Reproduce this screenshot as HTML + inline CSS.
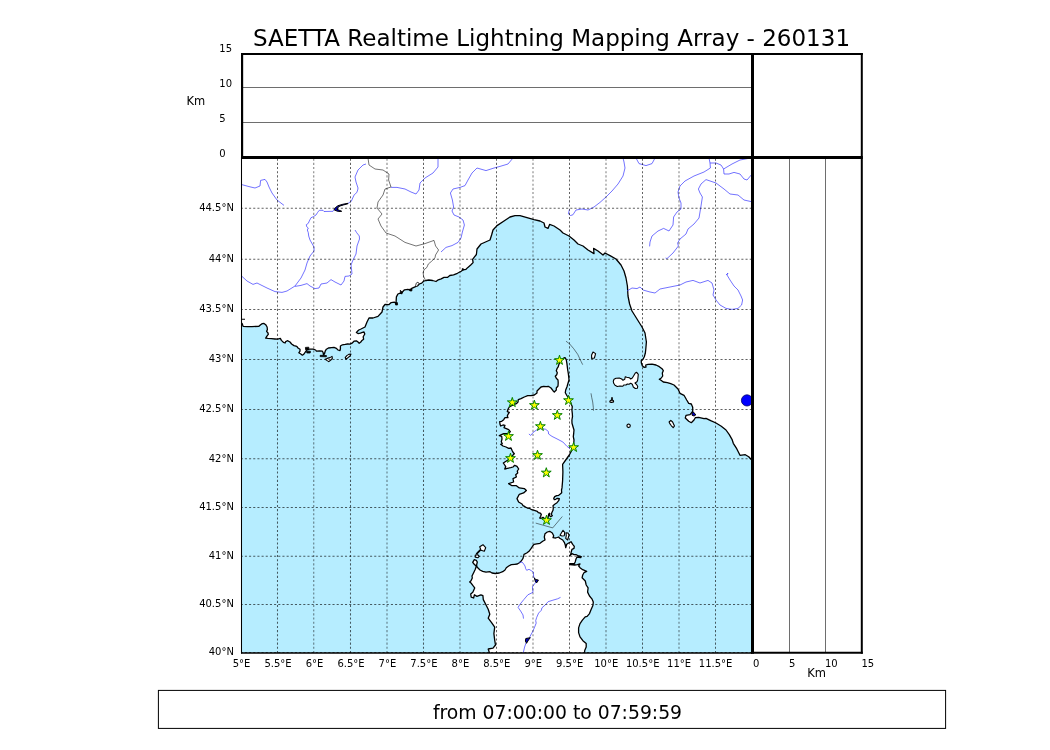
<!DOCTYPE html>
<html lang="en"><head><meta charset="utf-8"><title>SAETTA Realtime Lightning Mapping Array</title>
<style>html,body{margin:0;padding:0;background:#fff;overflow:hidden}svg{display:block;will-change:transform}text{font-family:"DejaVu Sans","Liberation Sans",sans-serif;fill:#000}</style></head><body>
<svg width="1050" height="750" viewBox="0 0 1050 750">
<rect width="1050" height="750" fill="#fff"/>
<defs><clipPath id="mc"><rect x="241.5" y="157.4" width="511.0" height="495.6"/></clipPath></defs>
<g clip-path="url(#mc)">
<rect x="241.5" y="157.4" width="511.0" height="495.6" fill="#b6edff"/>
<path d="M240.0 322.5 L242.0 323.3 L242.6 324.7 L243.1 326.4 L247.4 326.6 L252.0 326.6 L258.9 326.3 L260.6 324.7 L262.3 323.6 L264.0 323.4 L265.7 324.7 L267.1 327.0 L267.4 329.6 L266.6 331.3 L268.0 333.0 L268.3 334.4 L266.9 336.1 L265.7 338.1 L268.0 338.4 L271.4 338.7 L274.9 339.0 L277.7 339.2 L280.3 338.4 L281.4 340.4 L283.4 342.4 L285.1 343.0 L285.7 341.6 L287.4 340.7 L290.0 342.0 L291.6 344.0 L294.0 345.6 L296.8 346.4 L298.0 348.0 L300.0 349.2 L300.0 351.2 L298.8 352.8 L300.8 354.0 L302.4 355.2 L304.0 354.0 L305.6 351.6 L307.2 349.6 L309.2 349.2 L313.2 349.2 L315.6 350.0 L316.4 351.2 L319.6 351.0 L322.4 351.2 L323.2 352.8 L323.4 354.8 L324.4 354.0 L325.2 351.2 L326.4 349.2 L328.4 348.0 L331.6 347.6 L334.0 347.4 L336.4 348.4 L338.0 350.0 L340.0 350.6 L340.4 348.8 L340.4 346.0 L342.4 344.8 L345.2 344.4 L347.6 344.0 L350.0 344.2 L352.0 343.2 L354.0 341.2 L356.4 340.8 L358.0 342.0 L359.2 343.2 L360.8 342.0 L362.0 340.4 L363.6 339.2 L363.2 336.8 L364.8 334.0 L364.0 332.0 L362.4 332.4 L360.4 333.2 L358.0 333.6 L356.4 332.4 L358.0 330.8 L358.8 330.0 L361.0 329.0 L365.0 327.0 L367.0 322.0 L369.0 318.0 L373.0 318.0 L378.0 316.4 L382.0 312.0 L383.0 307.0 L385.0 304.5 L388.8 304.7 L391.2 302.6 L394.5 302.1 L396.0 303.6 L396.4 296.9 L397.9 294.0 L400.2 293.1 L401.7 293.6 L402.6 291.7 L404.5 289.8 L407.9 289.3 L410.2 290.2 L411.7 288.3 L415.0 286.9 L417.4 286.0 L419.3 284.0 L421.7 283.1 L423.6 281.2 L426.0 280.5 L428.8 280.0 L432.6 280.5 L436.0 281.5 L438.3 279.8 L441.2 278.8 L444.0 277.4 L447.4 277.4 L449.8 275.5 L453.6 274.8 L457.4 273.3 L461.2 271.2 L463.1 269.8 L466.0 269.3 L467.9 267.4 L470.7 265.0 L473.1 262.6 L472.6 259.3 L474.5 256.9 L476.4 254.5 L477.0 249.0 L481.0 244.0 L490.0 240.0 L491.6 235.0 L493.0 230.0 L497.0 225.6 L504.0 221.0 L510.0 217.0 L515.0 215.6 L520.0 215.6 L527.0 217.6 L534.0 219.6 L540.0 221.0 L544.0 223.0 L545.0 227.0 L548.0 228.4 L549.6 224.4 L554.0 226.0 L560.0 230.0 L563.0 233.0 L569.0 236.0 L574.0 240.0 L578.0 244.0 L583.0 246.0 L588.0 250.0 L594.0 253.6 L593.6 248.4 L598.0 251.0 L603.0 255.0 L605.0 253.0 L610.0 255.6 L616.0 259.0 L621.0 265.0 L624.0 271.0 L626.0 278.0 L627.4 286.0 L628.0 296.0 L629.6 304.0 L632.0 311.0 L637.0 319.0 L642.0 327.0 L645.0 333.0 L646.4 342.0 L645.8 349.0 L645.3 353.3 L644.3 356.7 L643.0 359.3 L641.3 360.0 L641.3 362.7 L642.3 365.7 L644.0 367.3 L646.0 367.0 L645.7 365.0 L648.0 364.3 L652.0 364.1 L656.0 365.0 L659.3 366.7 L662.0 368.7 L663.3 370.7 L662.3 373.0 L662.7 376.0 L661.3 378.0 L659.3 379.2 L661.0 380.3 L663.3 382.0 L667.3 382.7 L670.7 383.7 L674.0 385.0 L678.0 389.0 L680.0 393.3 L684.0 395.3 L686.7 400.0 L688.7 403.3 L691.3 404.0 L692.7 407.3 L692.7 411.3 L690.0 414.7 L686.0 415.3 L685.3 418.0 L688.7 421.3 L691.3 422.7 L694.0 420.0 L695.3 417.7 L698.7 417.3 L704.0 418.7 L706.0 418.3 L710.7 420.7 L716.0 423.0 L721.3 426.3 L726.0 430.0 L729.3 434.7 L732.0 439.3 L733.3 443.3 L736.7 448.7 L740.0 455.3 L745.3 454.7 L748.7 456.7 L751.0 459.3 L753.0 460.5 L760.0 460.0 L760.0 150.0 L235.0 150.0 L235.0 322.0Z" fill="#fff"/>
<path d="M240.0 322.5 L242.0 323.3 L242.6 324.7 L243.1 326.4 L247.4 326.6 L252.0 326.6 L258.9 326.3 L260.6 324.7 L262.3 323.6 L264.0 323.4 L265.7 324.7 L267.1 327.0 L267.4 329.6 L266.6 331.3 L268.0 333.0 L268.3 334.4 L266.9 336.1 L265.7 338.1 L268.0 338.4 L271.4 338.7 L274.9 339.0 L277.7 339.2 L280.3 338.4 L281.4 340.4 L283.4 342.4 L285.1 343.0 L285.7 341.6 L287.4 340.7 L290.0 342.0 L291.6 344.0 L294.0 345.6 L296.8 346.4 L298.0 348.0 L300.0 349.2 L300.0 351.2 L298.8 352.8 L300.8 354.0 L302.4 355.2 L304.0 354.0 L305.6 351.6 L307.2 349.6 L309.2 349.2 L313.2 349.2 L315.6 350.0 L316.4 351.2 L319.6 351.0 L322.4 351.2 L323.2 352.8 L323.4 354.8 L324.4 354.0 L325.2 351.2 L326.4 349.2 L328.4 348.0 L331.6 347.6 L334.0 347.4 L336.4 348.4 L338.0 350.0 L340.0 350.6 L340.4 348.8 L340.4 346.0 L342.4 344.8 L345.2 344.4 L347.6 344.0 L350.0 344.2 L352.0 343.2 L354.0 341.2 L356.4 340.8 L358.0 342.0 L359.2 343.2 L360.8 342.0 L362.0 340.4 L363.6 339.2 L363.2 336.8 L364.8 334.0 L364.0 332.0 L362.4 332.4 L360.4 333.2 L358.0 333.6 L356.4 332.4 L358.0 330.8 L358.8 330.0 L361.0 329.0 L365.0 327.0 L367.0 322.0 L369.0 318.0 L373.0 318.0 L378.0 316.4 L382.0 312.0 L383.0 307.0 L385.0 304.5 L388.8 304.7 L391.2 302.6 L394.5 302.1 L396.0 303.6 L396.4 296.9 L397.9 294.0 L400.2 293.1 L401.7 293.6 L402.6 291.7 L404.5 289.8 L407.9 289.3 L410.2 290.2 L411.7 288.3 L415.0 286.9 L417.4 286.0 L419.3 284.0 L421.7 283.1 L423.6 281.2 L426.0 280.5 L428.8 280.0 L432.6 280.5 L436.0 281.5 L438.3 279.8 L441.2 278.8 L444.0 277.4 L447.4 277.4 L449.8 275.5 L453.6 274.8 L457.4 273.3 L461.2 271.2 L463.1 269.8 L466.0 269.3 L467.9 267.4 L470.7 265.0 L473.1 262.6 L472.6 259.3 L474.5 256.9 L476.4 254.5 L477.0 249.0 L481.0 244.0 L490.0 240.0 L491.6 235.0 L493.0 230.0 L497.0 225.6 L504.0 221.0 L510.0 217.0 L515.0 215.6 L520.0 215.6 L527.0 217.6 L534.0 219.6 L540.0 221.0 L544.0 223.0 L545.0 227.0 L548.0 228.4 L549.6 224.4 L554.0 226.0 L560.0 230.0 L563.0 233.0 L569.0 236.0 L574.0 240.0 L578.0 244.0 L583.0 246.0 L588.0 250.0 L594.0 253.6 L593.6 248.4 L598.0 251.0 L603.0 255.0 L605.0 253.0 L610.0 255.6 L616.0 259.0 L621.0 265.0 L624.0 271.0 L626.0 278.0 L627.4 286.0 L628.0 296.0 L629.6 304.0 L632.0 311.0 L637.0 319.0 L642.0 327.0 L645.0 333.0 L646.4 342.0 L645.8 349.0 L645.3 353.3 L644.3 356.7 L643.0 359.3 L641.3 360.0 L641.3 362.7 L642.3 365.7 L644.0 367.3 L646.0 367.0 L645.7 365.0 L648.0 364.3 L652.0 364.1 L656.0 365.0 L659.3 366.7 L662.0 368.7 L663.3 370.7 L662.3 373.0 L662.7 376.0 L661.3 378.0 L659.3 379.2 L661.0 380.3 L663.3 382.0 L667.3 382.7 L670.7 383.7 L674.0 385.0 L678.0 389.0 L680.0 393.3 L684.0 395.3 L686.7 400.0 L688.7 403.3 L691.3 404.0 L692.7 407.3 L692.7 411.3 L690.0 414.7 L686.0 415.3 L685.3 418.0 L688.7 421.3 L691.3 422.7 L694.0 420.0 L695.3 417.7 L698.7 417.3 L704.0 418.7 L706.0 418.3 L710.7 420.7 L716.0 423.0 L721.3 426.3 L726.0 430.0 L729.3 434.7 L732.0 439.3 L733.3 443.3 L736.7 448.7 L740.0 455.3 L745.3 454.7 L748.7 456.7 L751.0 459.3 L753.0 460.5" fill="none" stroke="#000" stroke-width="1.3" stroke-linejoin="round"/>
<path d="M564.2 357.7 L561.0 360.0 L559.5 363.0 L558.7 365.0 L558.3 366.7 L557.0 368.7 L556.3 370.7 L557.3 372.7 L556.7 374.7 L555.3 376.3 L556.3 378.3 L558.0 380.0 L558.2 382.7 L558.0 386.0 L556.3 388.0 L556.3 390.0 L554.3 392.0 L553.0 390.7 L551.0 388.0 L548.3 386.3 L546.3 386.7 L543.7 386.3 L541.0 387.0 L539.0 389.0 L537.0 391.0 L537.0 393.0 L534.3 395.0 L531.0 395.7 L527.7 395.7 L524.3 397.0 L521.0 398.7 L518.3 399.7 L518.0 402.0 L516.3 403.7 L513.0 405.0 L509.3 407.0 L508.0 409.3 L507.3 411.7 L509.3 412.3 L508.0 414.3 L507.3 416.0 L508.0 417.7 L505.0 417.7 L503.7 419.7 L501.7 421.3 L499.7 421.7 L500.0 424.3 L500.7 426.0 L503.0 425.0 L505.0 425.3 L504.0 427.7 L506.3 428.7 L508.7 429.7 L510.3 431.7 L508.3 433.3 L503.7 433.7 L499.3 435.7 L501.7 436.3 L502.0 439.0 L501.3 441.7 L502.3 443.7 L500.7 444.3 L503.0 446.0 L506.0 447.0 L508.7 448.3 L511.0 448.0 L512.0 450.3 L513.0 452.3 L514.3 453.7 L513.0 455.0 L511.0 458.0 L506.0 461.3 L503.3 463.0 L504.7 465.0 L505.7 466.7 L504.7 469.0 L507.3 468.3 L510.7 467.7 L513.0 467.0 L514.7 465.3 L517.0 466.3 L518.7 469.0 L517.3 471.0 L517.7 473.0 L515.7 474.7 L516.4 477.0 L513.0 478.6 L513.6 482.0 L508.6 483.6 L512.0 485.7 L516.4 485.7 L519.3 487.9 L524.3 488.6 L526.4 490.4 L523.6 492.9 L519.3 494.3 L517.0 498.6 L518.6 502.0 L522.0 504.0 L523.0 505.7 L525.0 506.7 L527.3 508.0 L529.3 508.3 L531.7 509.7 L534.3 510.3 L537.3 511.3 L538.3 512.7 L540.0 513.0 L541.3 514.3 L540.7 516.3 L539.7 518.0 L541.3 518.3 L543.0 517.3 L545.0 519.0 L546.5 520.0 L548.0 518.0 L548.7 514.0 L549.7 513.3 L549.3 515.3 L550.7 516.7 L552.3 515.7 L551.3 514.3 L552.0 512.3 L553.0 510.3 L553.3 508.0 L553.0 505.7 L554.7 504.3 L557.0 502.7 L558.7 500.7 L559.3 498.7 L557.3 498.3 L555.7 499.3 L554.3 499.7 L553.7 498.3 L554.7 496.7 L556.7 495.7 L558.7 495.3 L560.3 494.0 L561.7 492.7 L561.5 490.0 L562.0 487.9 L562.6 480.7 L562.9 472.0 L562.6 464.3 L565.7 460.0 L569.3 455.0 L572.0 450.0 L573.6 445.0 L574.0 440.0 L573.3 436.7 L573.7 433.3 L574.0 430.0 L573.0 426.7 L572.0 423.3 L571.9 420.0 L572.5 416.7 L572.3 413.3 L571.9 410.0 L572.3 406.7 L571.3 404.3 L569.8 400.5 L568.3 397.3 L566.7 395.3 L565.3 392.7 L565.7 390.0 L567.0 386.7 L568.0 383.3 L569.0 380.0 L568.7 376.7 L568.3 373.3 L567.7 370.0 L567.3 366.7 L566.9 363.3 L566.3 360.0 L565.3 357.9Z" fill="#fff" stroke="#000" stroke-width="1.3" stroke-linejoin="round"/>
<path d="M489.8 654.0 L488.2 649.0 L493.0 648.2 L495.5 645.0 L494.7 640.1 L493.9 633.6 L494.7 627.2 L491.4 622.3 L488.2 618.2 L489.8 614.2 L488.2 609.3 L485.8 604.5 L483.3 599.6 L482.9 595.6 L480.9 594.8 L476.9 596.4 L474.4 594.8 L473.6 598.0 L471.2 597.2 L470.7 594.0 L472.8 592.3 L474.7 587.9 L473.0 585.7 L471.3 583.3 L469.7 582.0 L471.0 580.7 L472.3 578.0 L472.0 576.0 L474.0 572.0 L475.3 569.3 L476.3 566.3 L474.0 564.0 L472.7 562.3 L474.3 559.7 L476.3 560.3 L477.3 562.0 L476.7 564.7 L476.7 566.3 L478.0 568.0 L480.0 570.0 L482.7 571.3 L486.0 572.1 L490.0 571.7 L492.0 573.0 L495.3 573.5 L499.3 573.0 L502.7 571.7 L505.0 570.0 L506.3 567.7 L508.7 566.0 L511.3 564.7 L514.7 564.3 L517.3 564.0 L519.3 562.7 L521.3 561.0 L523.0 558.3 L523.7 555.7 L524.0 554.3 L526.7 553.0 L529.0 551.3 L531.0 548.7 L532.7 546.0 L534.0 544.3 L536.8 543.8 L540.0 543.3 L542.7 541.3 L545.0 540.0 L544.3 537.0 L545.0 533.7 L547.3 532.0 L549.7 531.3 L552.3 533.0 L553.7 535.7 L553.0 537.7 L555.7 538.0 L558.7 537.0 L559.7 538.3 L562.7 540.0 L564.3 542.3 L565.3 545.0 L565.7 547.7 L566.7 544.3 L568.7 543.0 L571.0 541.7 L572.7 544.3 L574.3 546.3 L574.0 548.3 L572.0 549.3 L571.3 551.7 L570.7 554.3 L569.7 555.7 L572.0 553.7 L574.0 554.7 L576.3 554.7 L578.7 556.0 L581.3 556.7 L580.7 557.7 L577.0 557.0 L576.0 559.0 L575.3 561.7 L574.3 563.7 L569.7 563.7 L569.7 564.7 L574.7 565.0 L577.3 564.7 L580.0 564.0 L578.7 566.0 L580.0 567.7 L582.7 569.7 L586.7 571.3 L584.0 572.7 L582.7 575.0 L582.1 577.8 L585.3 581.0 L586.2 585.0 L588.1 587.9 L587.6 592.1 L589.5 596.0 L591.9 598.8 L593.3 602.1 L592.9 605.5 L591.0 609.8 L589.5 613.6 L587.1 616.4 L585.2 616.9 L582.4 620.2 L580.0 623.6 L578.6 627.9 L578.6 632.6 L580.0 636.9 L582.9 640.7 L586.2 643.6 L586.2 646.9 L584.8 650.2 L584.3 654.0Z" fill="#fff" stroke="#000" stroke-width="1.3" stroke-linejoin="round"/>
<path d="M613.3 381.3 L614.0 379.3 L616.0 378.3 L619.3 378.1 L621.7 379.0 L623.0 380.3 L624.7 379.3 L625.3 376.7 L626.7 377.3 L629.3 377.7 L630.7 379.0 L632.3 378.0 L633.7 375.7 L635.3 373.0 L636.7 372.3 L638.3 374.3 L638.0 377.3 L637.7 380.0 L637.0 381.7 L635.0 383.0 L636.7 384.7 L637.7 386.3 L637.3 388.3 L635.3 388.5 L633.3 387.0 L632.3 384.3 L630.7 383.3 L629.0 384.3 L627.3 384.0 L626.0 385.0 L623.7 385.0 L622.7 386.3 L620.0 386.0 L617.3 386.5 L615.0 385.3 L613.7 383.3Z" fill="#fff" stroke="#000" stroke-width="1.1" stroke-linejoin="round"/>
<path d="M593.0 352.0 L595.6 353.6 L594.4 358.0 L591.6 358.4 L591.6 355.0Z" fill="#fff" stroke="#000" stroke-width="1.1" stroke-linejoin="round"/>
<path d="M609.8 401.2 L611.4 400.0 L613.4 400.5 L613.6 401.9 L611.6 402.4 L610.0 402.1Z" fill="#fff" stroke="#000" stroke-width="1.1" stroke-linejoin="round"/>
<path d="M630.3 425.8 L629.8 427.1 L628.6 427.6 L627.4 427.1 L626.9 425.8 L627.4 424.5 L628.6 424.0 L629.8 424.5Z" fill="#fff" stroke="#000" stroke-width="1.1" stroke-linejoin="round"/>
<path d="M669.1 422.0 L670.8 420.3 L672.6 422.0 L674.5 426.0 L673.2 427.7 L671.4 425.8 L669.8 423.6Z" fill="#fff" stroke="#000" stroke-width="1.1" stroke-linejoin="round"/>
<path d="M560.0 535.3 L563.0 530.3 L564.7 532.3 L564.3 535.7 L562.0 536.0Z" fill="#fff" stroke="#000" stroke-width="1.1" stroke-linejoin="round"/>
<path d="M566.0 532.7 L568.0 533.0 L569.0 535.0 L567.7 540.0 L565.7 538.3 L566.3 535.7Z" fill="#fff" stroke="#000" stroke-width="1.1" stroke-linejoin="round"/>
<path d="M479.7 546.7 L483.0 544.7 L485.7 547.7 L484.3 551.3 L481.0 550.3Z" fill="#fff" stroke="#000" stroke-width="1.1" stroke-linejoin="round"/>
<path d="M475.3 555.0 L477.7 554.7 L479.3 556.3 L478.0 557.7 L475.3 557.3Z" fill="#fff" stroke="#000" stroke-width="1.1" stroke-linejoin="round"/>
<path d="M325.2 359.2 L327.2 358.4 L330.0 357.6 L332.0 356.4 L332.4 358.4 L330.8 360.0 L328.8 361.6 L326.8 360.4Z" fill="#fff" stroke="#000" stroke-width="1.1" stroke-linejoin="round"/>
<path d="M345.2 357.6 L346.8 355.6 L348.8 354.4 L351.0 354.0 L350.0 356.0 L348.0 357.6 L346.0 359.2Z" fill="#fff" stroke="#000" stroke-width="1.1" stroke-linejoin="round"/>
<path d="M320.2 355.3 L326.4 355.5 L326.4 356.8 L320.2 356.6Z" fill="#000" stroke="#000" stroke-width="0.8"/>
<path d="M305.4 347.4 L308.8 347.2 L308.6 349.8 L305.6 349.8Z" fill="#000" stroke="#000" stroke-width="0.8"/>
<path d="M306.6 351.2 L310.4 351.2 L310.2 353.0 L306.8 353.0Z" fill="#000" stroke="#000" stroke-width="0.8"/>
<path d="M395.4 302.8 L397.4 302.6 L397.6 304.9 L395.6 305.0Z" fill="#000" stroke="#000" stroke-width="0.8"/>
<path d="M400.3 290.2 L402.4 292.5 L400.5 293.4Z" fill="#000" stroke="#000" stroke-width="0.8"/>
<path d="M409.4 289.2 L412.0 288.9 L411.8 291.0 L409.8 290.9Z" fill="#000" stroke="#000" stroke-width="0.8"/>
<path d="M462.3 268.5 L463.8 269.0 L463.3 270.2 L462.2 270.0Z" fill="#000" stroke="#000" stroke-width="0.8"/>
<path d="M241 319.3 L245 319.3" stroke="#000" stroke-width="1.1"/>
<path d="M480.7 549.6 L476.3 554.2" fill="none" stroke="#000" stroke-width="1.7"/>
<path d="M612.0 397.2 L612.0 400.3" fill="none" stroke="#000" stroke-width="1.7"/>
<path d="M415.6 285.8 L416.2 283.2 L418.0 282.1 L418.9 283.3 L417.8 285.3 L416.6 286.4Z" fill="#fff" stroke="#000" stroke-width="0.7"/>
<path d="M368.0 158.0 L369.0 165.0 L375.0 169.0 L383.0 170.0 L389.0 174.0 L388.6 180.0 L391.0 187.0 L385.0 189.0 L383.0 195.0 L378.0 202.0 L377.0 208.0 L382.0 214.0 L378.0 219.0 L381.0 226.0 L386.0 233.0 L395.0 236.0 L405.0 242.4 L416.0 246.0 L425.0 243.6 L434.0 240.4 L435.6 246.0 L438.6 250.0 L435.5 255.0 L435.0 257.9 L431.7 261.2 L428.3 264.0 L426.9 267.4 L424.0 269.8 L423.1 272.6 L423.6 276.4 L425.0 279.3 L425.5 280.5" fill="none" stroke="#000" stroke-width="0.55" stroke-linejoin="round"/>
<path d="M241.0 184.4 L249.0 186.6 L255.0 188.0 L260.0 186.0 L260.6 180.4 L265.0 179.4 L267.0 182.0 L269.0 187.0 L272.0 193.0 L277.0 200.0 L284.0 205.4" fill="none" stroke="#3c3cff" stroke-width="0.72" stroke-linejoin="round"/>
<path d="M366.0 164.0 L363.0 165.0 L358.0 170.0 L355.0 177.0 L356.0 182.0 L358.0 188.0 L357.7 190.0 L356.7 192.7 L354.3 194.7 L352.7 198.0 L351.3 201.3 L349.0 202.7 L348.0 203.5" fill="none" stroke="#3c3cff" stroke-width="0.72" stroke-linejoin="round"/>
<path d="M334.0 210.0 L333.0 211.3 L324.0 211.5 L323.0 210.3 L319.3 210.3 L317.7 212.3 L316.0 215.0 L313.3 216.7 L311.0 217.7 L309.3 221.0 L308.3 223.3 L306.3 224.7 L306.7 226.7 L308.3 228.0 L307.3 230.0 L308.3 232.7 L308.7 236.0 L310.0 240.0 L314.0 247.0 L314.0 251.0 L310.0 256.0 L307.0 263.0 L305.0 270.0 L301.0 278.0 L295.0 286.0 L287.0 291.0 L282.0 292.4 L275.0 291.6 L267.0 288.0 L257.0 283.0 L253.0 284.4 L247.0 281.0 L241.0 275.5" fill="none" stroke="#3c3cff" stroke-width="0.72" stroke-linejoin="round"/>
<path d="M355.0 230.0 L356.7 232.7 L359.3 236.0 L359.5 239.0 L357.0 246.0 L356.0 254.0 L353.0 260.0 L351.0 265.0 L351.6 270.0 L352.0 274.0 L349.0 276.0 L345.0 276.4 L344.0 281.0 L341.0 285.0 L335.0 282.0 L331.0 279.6 L327.0 283.0 L321.0 284.0 L319.0 288.0 L315.0 288.6 L310.0 286.0 L307.0 283.6 L301.0 285.4 L295.0 286.4" fill="none" stroke="#3c3cff" stroke-width="0.72" stroke-linejoin="round"/>
<path d="M438.0 158.0 L438.0 167.0 L433.0 173.0 L425.0 178.0 L420.0 183.0 L419.0 190.0 L416.0 194.0 L411.0 192.0 L405.0 189.0 L397.0 187.4 L391.0 187.4" fill="none" stroke="#3c3cff" stroke-width="0.72" stroke-linejoin="round"/>
<path d="M441.0 252.0 L446.0 247.4 L452.0 245.6 L458.0 242.4 L461.0 238.0 L462.4 232.0 L464.4 225.0 L463.0 220.0 L459.0 217.0 L454.0 215.0 L452.0 211.0 L453.6 207.0 L452.4 200.0 L450.4 193.0 L453.0 189.0 L460.0 187.4 L465.0 185.6 L468.0 180.0 L472.0 173.0 L477.0 168.0 L486.0 170.6 L494.0 168.0 L500.0 166.4 L508.0 164.0 L513.0 158.0" fill="none" stroke="#3c3cff" stroke-width="0.72" stroke-linejoin="round"/>
<path d="M569.4 209.5 L568.4 213.8 L570.5 215.5 L572.9 214.8 L576.0 210.0 L582.0 209.0 L588.0 210.0 L594.0 207.0 L600.0 202.4 L606.0 197.0 L612.0 191.0 L618.0 184.0 L623.0 176.0 L625.0 168.0 L624.0 162.0 L623.0 158.0" fill="none" stroke="#3c3cff" stroke-width="0.72" stroke-linejoin="round"/>
<path d="M636.0 158.0 L639.0 163.6 L646.0 165.6 L652.0 163.6 L655.0 158.0" fill="none" stroke="#3c3cff" stroke-width="0.72" stroke-linejoin="round"/>
<path d="M709.0 158.0 L710.0 163.0 L710.4 168.0 L704.0 172.0 L694.0 176.0 L685.0 181.0 L680.0 186.0 L678.0 192.0 L679.0 198.0 L681.0 203.0 L681.0 209.0 L677.0 212.0 L673.6 217.0 L673.0 225.0 L669.0 231.0 L663.6 228.4 L658.0 231.0 L652.0 236.0 L650.0 242.0 L649.6 246.4" fill="none" stroke="#3c3cff" stroke-width="0.72" stroke-linejoin="round"/>
<path d="M710.0 163.0 L716.0 163.0 L721.0 165.0 L723.6 169.0 L724.0 174.0 L729.0 174.0 L734.0 172.4 L740.0 174.0 L744.0 179.0 L747.0 180.0 L750.4 176.0 L753.0 173.0" fill="none" stroke="#3c3cff" stroke-width="0.72" stroke-linejoin="round"/>
<path d="M723.6 169.0 L732.0 164.0 L740.0 160.0 L748.0 158.5" fill="none" stroke="#3c3cff" stroke-width="0.72" stroke-linejoin="round"/>
<path d="M753.0 202.0 L744.0 200.0 L738.0 195.0 L730.0 194.0 L724.0 189.0 L716.0 183.0 L706.0 179.6 L701.0 184.0 L698.4 189.0 L700.0 193.0 L702.4 197.0 L701.0 206.0 L699.0 218.0 L694.0 224.0 L688.0 229.0 L686.0 234.0 L680.0 239.0 L677.6 243.0 L678.4 246.0 L673.0 253.0 L667.0 258.6 L665.6 258.0" fill="none" stroke="#3c3cff" stroke-width="0.72" stroke-linejoin="round"/>
<path d="M627.0 291.0 L632.0 288.0 L637.0 288.6 L640.0 287.0 L643.0 290.0 L650.0 292.0 L655.0 293.0 L660.0 289.0 L670.0 287.0 L680.0 285.0 L686.0 282.0 L693.0 280.4 L700.0 283.0 L708.0 280.4 L712.0 283.0 L714.0 290.0 L713.0 295.0 L716.0 300.0 L720.0 305.0 L726.0 308.4 L732.0 309.4 L738.0 308.4 L741.6 305.0 L742.6 300.0 L741.0 296.0 L738.0 290.0 L734.0 286.0 L730.0 280.0 L727.0 275.0 L728.0 273.0 L726.0 275.0" fill="none" stroke="#3c3cff" stroke-width="0.72" stroke-linejoin="round"/>
<path d="M528.9 434.0 L530.7 435.4 L533.6 432.0 L537.0 429.7 L541.4 428.6 L545.7 429.3 L548.3 431.4 L548.6 434.0 L552.0 436.4 L557.0 438.9 L562.9 442.0 L567.0 446.4 L570.0 448.6" fill="none" stroke="#3c3cff" stroke-width="0.72" stroke-linejoin="round"/>
<path d="M519.3 562.7 L522.0 562.0 L523.7 564.0 L525.0 566.0 L525.7 568.7 L526.7 570.3 L529.0 569.3 L531.3 570.7 L533.3 572.0 L533.7 577.0 L535.0 579.0" fill="none" stroke="#3c3cff" stroke-width="0.72" stroke-linejoin="round"/>
<path d="M536.0 582.0 L532.4 586.7 L533.0 592.3 L527.9 594.8 L523.8 599.6 L519.8 604.5 L518.1 607.4 L520.6 611.0 L523.0 615.0 L523.5 618.6" fill="none" stroke="#3c3cff" stroke-width="0.72" stroke-linejoin="round"/>
<path d="M560.5 597.4 L557.6 598.8 L552.9 600.2 L548.1 601.7 L545.7 604.5 L541.9 607.9 L541.4 610.2 L538.6 613.1 L536.7 617.4 L535.7 620.7 L536.2 623.1 L534.3 627.9 L532.4 632.1 L530.0 636.4 L529.6 638.2" fill="none" stroke="#3c3cff" stroke-width="0.72" stroke-linejoin="round"/>
<path d="M526.0 643.0 L524.6 647.0 L523.0 654.0" fill="none" stroke="#3c3cff" stroke-width="0.72" stroke-linejoin="round"/>
<path d="M348.0 203.3 L342.7 204.3 L338.0 205.7 L335.3 207.7 L334.0 209.7 L336.0 210.7 L338.7 211.5 L341.7 211.3 L339.3 210.3 L337.0 209.3 L338.0 207.3 L340.0 206.0 L343.3 205.0 L348.0 203.7Z" fill="#0000c8" stroke="#000" stroke-width="1"/>
<path d="M692.3 411.7 L694.0 412.5 L695.7 415.0 L694.0 416.0 L692.0 415.2Z" fill="#0000c8" stroke="#000" stroke-width="1"/>
<path d="M534.3 577.8 L535.5 579.5 L538.4 580.0 L537.0 582.6 L535.5 582.0Z" fill="#0000c8" stroke="#000" stroke-width="1"/>
<path d="M525.8 638.5 L530.3 637.7 L528.5 640.0 L526.5 643.3 L525.4 641.0Z" fill="#0000c8" stroke="#000" stroke-width="1"/>
<circle cx="747" cy="400.4" r="5.6" fill="#0000ff" stroke="#00006a" stroke-width="0.8"/>
<line x1="277.50" y1="653" x2="277.50" y2="157.4" stroke="#000" stroke-opacity="0.62" stroke-width="1.04" stroke-dasharray="2.086 2.086"/>
<line x1="313.75" y1="653" x2="313.75" y2="157.4" stroke="#000" stroke-opacity="0.5" stroke-width="1.04" stroke-dasharray="2.086 2.086"/>
<line x1="350.50" y1="653" x2="350.50" y2="157.4" stroke="#000" stroke-opacity="0.62" stroke-width="1.04" stroke-dasharray="2.086 2.086"/>
<line x1="387.00" y1="653" x2="387.00" y2="157.4" stroke="#000" stroke-opacity="0.5" stroke-width="1.04" stroke-dasharray="2.086 2.086"/>
<line x1="423.50" y1="653" x2="423.50" y2="157.4" stroke="#000" stroke-opacity="0.62" stroke-width="1.04" stroke-dasharray="2.086 2.086"/>
<line x1="460.00" y1="653" x2="460.00" y2="157.4" stroke="#000" stroke-opacity="0.5" stroke-width="1.04" stroke-dasharray="2.086 2.086"/>
<line x1="496.50" y1="653" x2="496.50" y2="157.4" stroke="#000" stroke-opacity="0.62" stroke-width="1.04" stroke-dasharray="2.086 2.086"/>
<line x1="533.00" y1="653" x2="533.00" y2="157.4" stroke="#000" stroke-opacity="0.5" stroke-width="1.04" stroke-dasharray="2.086 2.086"/>
<line x1="569.50" y1="653" x2="569.50" y2="157.4" stroke="#000" stroke-opacity="0.62" stroke-width="1.04" stroke-dasharray="2.086 2.086"/>
<line x1="606.00" y1="653" x2="606.00" y2="157.4" stroke="#000" stroke-opacity="0.5" stroke-width="1.04" stroke-dasharray="2.086 2.086"/>
<line x1="642.50" y1="653" x2="642.50" y2="157.4" stroke="#000" stroke-opacity="0.62" stroke-width="1.04" stroke-dasharray="2.086 2.086"/>
<line x1="679.00" y1="653" x2="679.00" y2="157.4" stroke="#000" stroke-opacity="0.5" stroke-width="1.04" stroke-dasharray="2.086 2.086"/>
<line x1="715.50" y1="653" x2="715.50" y2="157.4" stroke="#000" stroke-opacity="0.62" stroke-width="1.04" stroke-dasharray="2.086 2.086"/>
<line x1="240.7" y1="604.50" x2="752.5" y2="604.50" stroke="#000" stroke-opacity="0.62" stroke-width="1.04" stroke-dasharray="2.086 2.086"/>
<line x1="240.7" y1="556.30" x2="752.5" y2="556.30" stroke="#000" stroke-opacity="0.62" stroke-width="1.04" stroke-dasharray="2.086 2.086"/>
<line x1="240.7" y1="507.60" x2="752.5" y2="507.60" stroke="#000" stroke-opacity="0.62" stroke-width="1.04" stroke-dasharray="2.086 2.086"/>
<line x1="240.7" y1="458.75" x2="752.5" y2="458.75" stroke="#000" stroke-opacity="0.62" stroke-width="1.04" stroke-dasharray="2.086 2.086"/>
<line x1="240.7" y1="409.50" x2="752.5" y2="409.50" stroke="#000" stroke-opacity="0.62" stroke-width="1.04" stroke-dasharray="2.086 2.086"/>
<line x1="240.7" y1="359.50" x2="752.5" y2="359.50" stroke="#000" stroke-opacity="0.62" stroke-width="1.04" stroke-dasharray="2.086 2.086"/>
<line x1="240.7" y1="309.45" x2="752.5" y2="309.45" stroke="#000" stroke-opacity="0.62" stroke-width="1.04" stroke-dasharray="2.086 2.086"/>
<line x1="240.7" y1="259.15" x2="752.5" y2="259.15" stroke="#000" stroke-opacity="0.62" stroke-width="1.04" stroke-dasharray="2.086 2.086"/>
<line x1="240.7" y1="208.15" x2="752.5" y2="208.15" stroke="#000" stroke-opacity="0.62" stroke-width="1.04" stroke-dasharray="2.086 2.086"/>
<line x1="240.7" y1="652.45" x2="752.5" y2="652.45" stroke="#000" stroke-opacity="0.62" stroke-width="1.04" stroke-dasharray="2.086 2.086"/>
<path d="M566.0 341.2 L569.7 344.0 L573.7 348.7 L577.7 354.3 L581.0 361.3 L582.7 364.7" fill="none" stroke="#000" stroke-width="0.5"/>
<path d="M591.0 393.3 L591.7 397.3 L592.7 402.0 L593.3 407.3 L593.5 410.7" fill="none" stroke="#000" stroke-width="0.5"/>
<path d="M535.7 523.1 L552.7 527.9 L562.3 516.5" fill="none" stroke="#000" stroke-width="0.5"/>
<path d="M559.5 355.2 L560.6 358.7 L564.4 358.7 L561.4 360.9 L562.5 364.4 L559.5 362.2 L556.5 364.4 L557.6 360.9 L554.6 358.7 L558.4 358.7Z" fill="#ffff00" stroke="#008000" stroke-width="1.0" stroke-linejoin="round"/>
<path d="M512.3 397.4 L513.4 400.9 L517.2 400.9 L514.2 403.1 L515.3 406.6 L512.3 404.4 L509.3 406.6 L510.4 403.1 L507.4 400.9 L511.2 400.9Z" fill="#ffff00" stroke="#008000" stroke-width="1.0" stroke-linejoin="round"/>
<path d="M534.4 400.2 L535.5 403.7 L539.3 403.7 L536.3 405.9 L537.4 409.4 L534.4 407.2 L531.4 409.4 L532.5 405.9 L529.5 403.7 L533.3 403.7Z" fill="#ffff00" stroke="#008000" stroke-width="1.0" stroke-linejoin="round"/>
<path d="M568.5 395.3 L569.6 398.8 L573.4 398.8 L570.4 401.0 L571.5 404.5 L568.5 402.3 L565.5 404.5 L566.6 401.0 L563.6 398.8 L567.4 398.8Z" fill="#ffff00" stroke="#008000" stroke-width="1.0" stroke-linejoin="round"/>
<path d="M557.3 410.2 L558.4 413.7 L562.2 413.7 L559.2 415.9 L560.3 419.4 L557.3 417.2 L554.3 419.4 L555.4 415.9 L552.4 413.7 L556.2 413.7Z" fill="#ffff00" stroke="#008000" stroke-width="1.0" stroke-linejoin="round"/>
<path d="M540.4 421.3 L541.5 424.8 L545.3 424.8 L542.3 427.0 L543.4 430.5 L540.4 428.3 L537.4 430.5 L538.5 427.0 L535.5 424.8 L539.3 424.8Z" fill="#ffff00" stroke="#008000" stroke-width="1.0" stroke-linejoin="round"/>
<path d="M508.5 431.2 L509.6 434.7 L513.4 434.7 L510.4 436.9 L511.5 440.4 L508.5 438.2 L505.5 440.4 L506.6 436.9 L503.6 434.7 L507.4 434.7Z" fill="#ffff00" stroke="#008000" stroke-width="1.0" stroke-linejoin="round"/>
<path d="M573.6 442.3 L574.7 445.8 L578.5 445.8 L575.5 448.0 L576.6 451.5 L573.6 449.3 L570.6 451.5 L571.7 448.0 L568.7 445.8 L572.5 445.8Z" fill="#ffff00" stroke="#008000" stroke-width="1.0" stroke-linejoin="round"/>
<path d="M537.5 450.2 L538.6 453.7 L542.4 453.7 L539.4 455.9 L540.5 459.4 L537.5 457.2 L534.5 459.4 L535.6 455.9 L532.6 453.7 L536.4 453.7Z" fill="#ffff00" stroke="#008000" stroke-width="1.0" stroke-linejoin="round"/>
<path d="M510.5 453.2 L511.6 456.7 L515.4 456.7 L512.4 458.9 L513.5 462.4 L510.5 460.2 L507.5 462.4 L508.6 458.9 L505.6 456.7 L509.4 456.7Z" fill="#ffff00" stroke="#008000" stroke-width="1.0" stroke-linejoin="round"/>
<path d="M546.3 467.7 L547.4 471.2 L551.2 471.2 L548.2 473.4 L549.3 476.9 L546.3 474.7 L543.3 476.9 L544.4 473.4 L541.4 471.2 L545.2 471.2Z" fill="#ffff00" stroke="#008000" stroke-width="1.0" stroke-linejoin="round"/>
<path d="M546.5 515.2 L547.6 518.7 L551.4 518.7 L548.4 520.9 L549.5 524.4 L546.5 522.2 L543.5 524.4 L544.6 520.9 L541.6 518.7 L545.4 518.7Z" fill="#ffff00" stroke="#008000" stroke-width="1.0" stroke-linejoin="round"/>
</g>
<line x1="243" y1="87.5" x2="751" y2="87.5" stroke="#6e6e6e" stroke-width="1"/>
<line x1="243" y1="122.5" x2="751" y2="122.5" stroke="#6e6e6e" stroke-width="1"/>
<line x1="789.5" y1="158" x2="789.5" y2="652" stroke="#6e6e6e" stroke-width="1"/>
<line x1="825.5" y1="158" x2="825.5" y2="652" stroke="#6e6e6e" stroke-width="1"/>
<line x1="241.5" y1="157" x2="241.5" y2="653.6" stroke="#000" stroke-width="1.05"/>
<line x1="241" y1="653.1" x2="752" y2="653.1" stroke="#000" stroke-width="1.5"/>
<line x1="242.1" y1="53" x2="242.1" y2="158" stroke="#000" stroke-width="2.15"/>
<line x1="241.3" y1="54" x2="862.8" y2="54" stroke="#000" stroke-width="2"/>
<line x1="241.3" y1="157.4" x2="862.8" y2="157.4" stroke="#000" stroke-width="3"/>
<line x1="752.5" y1="53" x2="752.5" y2="653.8" stroke="#000" stroke-width="3"/>
<line x1="861.8" y1="53" x2="861.8" y2="653.8" stroke="#000" stroke-width="2"/>
<line x1="751" y1="652.8" x2="862.8" y2="652.8" stroke="#000" stroke-width="2"/>
<rect x="158.4" y="690.4" width="787.2" height="38" fill="#fff" stroke="#000" stroke-width="1"/>
<text x="253" y="46.4" font-size="23.02">SAETTA Realtime Lightning Mapping Array - 260131</text>
<text x="432.9" y="719.2" font-size="18.8">from 07:00:00 to 07:59:59</text>
<text x="219.3" y="51.7" font-size="10">15</text>
<text x="219.3" y="86.9" font-size="10">10</text>
<text x="219.3" y="121.7" font-size="10">5</text>
<text x="219.3" y="157.1" font-size="10">0</text>
<text x="186.4" y="104.9" font-size="11.5">Km</text>
<text x="807.2" y="676.5" font-size="11.5">Km</text>
<text x="753" y="667" font-size="10">0</text>
<text x="789" y="667" font-size="10">5</text>
<text x="824.9" y="667" font-size="10">10</text>
<text x="861.4" y="667" font-size="10">15</text>
<text x="233.9" y="210.8" font-size="10" text-anchor="end">44.5°N</text>
<text x="233.9" y="261.8" font-size="10" text-anchor="end">44°N</text>
<text x="233.9" y="311.8" font-size="10" text-anchor="end">43.5°N</text>
<text x="233.9" y="361.8" font-size="10" text-anchor="end">43°N</text>
<text x="233.9" y="411.8" font-size="10" text-anchor="end">42.5°N</text>
<text x="233.9" y="461.8" font-size="10" text-anchor="end">42°N</text>
<text x="233.9" y="509.8" font-size="10" text-anchor="end">41.5°N</text>
<text x="233.9" y="558.8" font-size="10" text-anchor="end">41°N</text>
<text x="233.9" y="606.8" font-size="10" text-anchor="end">40.5°N</text>
<text x="233.9" y="654.8" font-size="10" text-anchor="end">40°N</text>
<text x="241.6" y="667" font-size="10" text-anchor="middle">5°E</text>
<text x="278.1" y="667" font-size="10" text-anchor="middle">5.5°E</text>
<text x="314.5" y="667" font-size="10" text-anchor="middle">6°E</text>
<text x="351.0" y="667" font-size="10" text-anchor="middle">6.5°E</text>
<text x="387.4" y="667" font-size="10" text-anchor="middle">7°E</text>
<text x="423.9" y="667" font-size="10" text-anchor="middle">7.5°E</text>
<text x="460.4" y="667" font-size="10" text-anchor="middle">8°E</text>
<text x="496.8" y="667" font-size="10" text-anchor="middle">8.5°E</text>
<text x="533.3" y="667" font-size="10" text-anchor="middle">9°E</text>
<text x="569.7" y="667" font-size="10" text-anchor="middle">9.5°E</text>
<text x="606.2" y="667" font-size="10" text-anchor="middle">10°E</text>
<text x="642.7" y="667" font-size="10" text-anchor="middle">10.5°E</text>
<text x="679.1" y="667" font-size="10" text-anchor="middle">11°E</text>
<text x="715.6" y="667" font-size="10" text-anchor="middle">11.5°E</text>
</svg></body></html>
